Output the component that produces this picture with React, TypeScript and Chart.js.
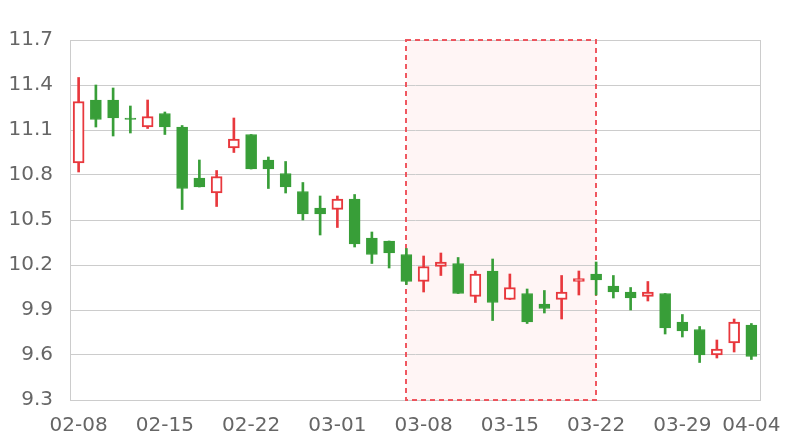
import React, { useEffect, useRef } from 'react';
import { Chart, registerables } from 'chart.js';

Chart.register(...registerables);

const dates = [
  '02-08', '02-11', '02-12', '02-13', '02-14', '02-15',
  '02-18', '02-19', '02-20', '02-21', '02-22',
  '02-25', '02-26', '02-27', '02-28', '03-01',
  '03-04', '03-05', '03-06', '03-07', '03-08',
  '03-11', '03-12', '03-13', '03-14', '03-15',
  '03-18', '03-19', '03-20', '03-21', '03-22',
  '03-25', '03-26', '03-27', '03-28', '03-29',
  '04-01', '04-02', '04-03', '04-04',
];
const openV = [
  10.88, 11.30, 11.30, 11.18, 11.12, 11.21,
  11.12, 10.78, 10.68, 10.98, 11.07,
  10.90, 10.81, 10.69, 10.58, 10.57,
  10.64, 10.38, 10.36, 10.27, 10.09,
  10.19, 10.21, 9.99, 10.16, 9.97,
  10.01, 9.94, 9.97, 10.09, 10.14,
  10.06, 10.02, 9.99, 10.01, 9.82,
  9.77, 9.60, 9.68, 9.80,
];
const closeV = [
  11.29, 11.17, 11.18, 11.17, 11.19, 11.12,
  10.71, 10.72, 10.79, 11.04, 10.84,
  10.84, 10.72, 10.54, 10.54, 10.64,
  10.34, 10.27, 10.28, 10.09, 10.19,
  10.22, 10.01, 10.14, 9.95, 10.05,
  9.82, 9.91, 10.02, 10.11, 10.10,
  10.02, 9.98, 10.02, 9.78, 9.76,
  9.60, 9.64, 9.82, 9.59,
];
const highV = [
  11.45, 11.40, 11.38, 11.26, 11.30, 11.22,
  11.13, 10.90, 10.83, 11.18, 11.07,
  10.92, 10.89, 10.75, 10.66, 10.66,
  10.67, 10.42, 10.36, 10.31, 10.26,
  10.28, 10.25, 10.16, 10.24, 10.14,
  10.04, 10.03, 10.13, 10.16, 10.22,
  10.13, 10.05, 10.09, 10.01, 9.87,
  9.79, 9.70, 9.84, 9.81,
];
const lowV = [
  10.82, 11.12, 11.06, 11.08, 11.11, 11.07,
  10.57, 10.72, 10.59, 10.95, 10.84,
  10.71, 10.68, 10.50, 10.40, 10.45,
  10.32, 10.21, 10.18, 10.07, 10.02,
  10.13, 10.01, 9.95, 9.83, 9.97,
  9.81, 9.88, 9.84, 10.00, 10.00,
  9.98, 9.90, 9.96, 9.74, 9.72,
  9.55, 9.58, 9.62, 9.57,
];
const shownLabels = ['02-08', '02-15', '02-22', '03-01', '03-08', '03-15', '03-22', '03-29', '04-04'];
const markStart = '03-07';
const markEnd = '03-22';
const yMin = 9.3;
const yMax = 11.7;
const yStep = 0.3;

const UP = 'rgb(232,56,61)';
const DOWN = 'rgb(56,158,56)';
const GRID = 'rgb(204,204,204)';
const TEXT = 'rgb(102,102,102)';
const FONT = { family: 'DejaVu Sans', size: 20 };

const markAreaPlugin = {
  id: 'markArea',
  beforeDraw(chart: any) {
    const { ctx, chartArea, scales } = chart;
    const x0 = scales.x.getPixelForValue(dates.indexOf(markStart));
    const x1 = scales.x.getPixelForValue(dates.indexOf(markEnd));
    ctx.save();
    ctx.fillStyle = 'rgb(255,245,245)';
    ctx.fillRect(x0, chartArea.top, x1 - x0, chartArea.bottom - chartArea.top);
    ctx.restore();
  },
  beforeDatasetsDraw(chart: any) {
    const { ctx, chartArea, scales } = chart;
    const x0 = Math.round(scales.x.getPixelForValue(dates.indexOf(markStart)));
    const x1 = Math.round(scales.x.getPixelForValue(dates.indexOf(markEnd)));
    ctx.save();
    // right frame line
    ctx.strokeStyle = GRID;
    ctx.lineWidth = 1;
    ctx.beginPath();
    ctx.moveTo(Math.round(chartArea.right) + 0.5, chartArea.top);
    ctx.lineTo(Math.round(chartArea.right) + 0.5, chartArea.bottom);
    ctx.stroke();
    // dashed mark area border
    ctx.strokeStyle = 'rgba(238,70,80,0.9)';
    ctx.lineWidth = 2;
    ctx.setLineDash([5, 4]);
    ctx.strokeRect(x0, chartArea.top, x1 - x0, chartArea.bottom - chartArea.top);
    ctx.restore();
  },
};

export default function App() {
  const ref = useRef<HTMLCanvasElement | null>(null);

  useEffect(() => {
    if (!ref.current) return;
    const up = dates.map((_, i) => closeV[i] >= openV[i]);
    const chart = new Chart(ref.current, {
      type: 'bar',
      data: {
        labels: dates,
        datasets: [
          {
            label: 'body',
            data: dates.map((_, i) => [openV[i], closeV[i]]) as any,
            backgroundColor: up.map((u) => (u ? '#ffffff' : DOWN)),
            borderColor: up.map((u) => (u ? UP : DOWN)),
            borderWidth: up.map((u) => (u ? 2 : 1)),
            borderSkipped: false,
            barThickness: 11,
            grouped: false,
            order: 0,
          } as any,
          {
            label: 'wick',
            data: dates.map((_, i) => [lowV[i], highV[i]]) as any,
            backgroundColor: up.map((u) => (u ? UP : DOWN)),
            borderWidth: 0,
            barThickness: 2,
            grouped: false,
            order: 1,
          } as any,
        ],
      },
      options: {
        animation: false,
        responsive: false,
        devicePixelRatio: 1,
        layout: { padding: { top: 40, right: 40, left: 0, bottom: 0 } },
        plugins: { legend: { display: false }, tooltip: { enabled: false } },
        scales: {
          x: {
            type: 'category',
            offset: true,
            grid: { display: false, drawTicks: false },
            border: { display: true, color: GRID, width: 1 },
            ticks: {
              autoSkip: false,
              maxRotation: 0,
              minRotation: 0,
              padding: 14,
              color: TEXT,
              font: FONT,
              callback: (v: any, i: number) => (shownLabels.includes(dates[i]) ? dates[i] : ''),
            },
            afterFit: (s: any) => { s.height = 40; },
          },
          y: {
            min: yMin,
            max: yMax,
            grid: { color: GRID, drawTicks: false, lineWidth: 1 },
            border: { display: true, color: GRID, width: 1 },
            ticks: {
              stepSize: yStep,
              padding: 17,
              color: TEXT,
              font: FONT,
              callback: (v: any) => Number(v).toFixed(1),
            },
            afterFit: (s: any) => { s.width = 70; },
          },
        },
      } as any,
      plugins: [markAreaPlugin],
    });
    return () => chart.destroy();
  }, []);

  return (
    <div style={{ position: 'absolute', left: 0, top: 0, width: 800, height: 440, background: '#fff' }}>
      <canvas ref={ref} width={800} height={440} />
    </div>
  );
}
